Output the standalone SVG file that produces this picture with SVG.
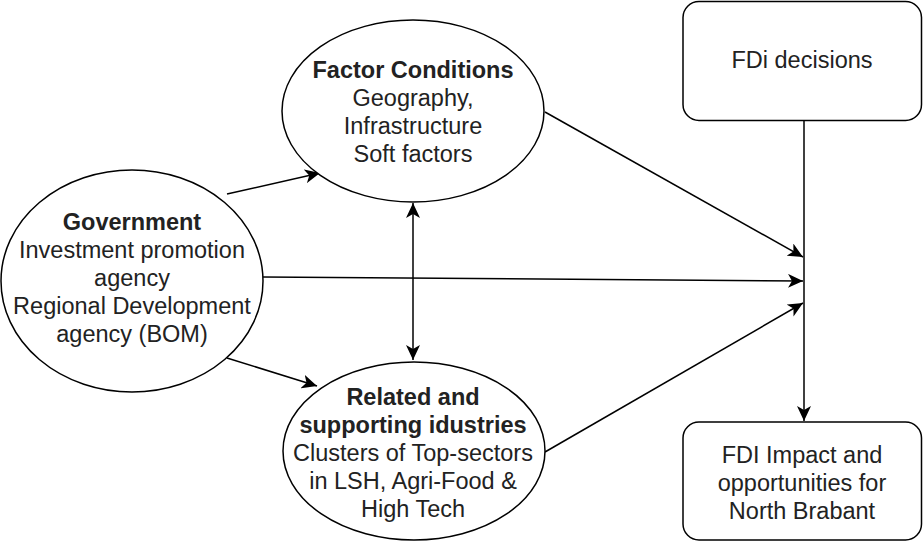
<svg xmlns="http://www.w3.org/2000/svg" width="923" height="542" viewBox="0 0 923 542">
<style>
.shape{fill:#fff;stroke:#000;stroke-width:1.5}
.edge{fill:none;stroke:#000;stroke-width:1.5}
text{font-family:"Liberation Sans",Arial,Helvetica,sans-serif;font-size:23.5px;fill:#222;text-anchor:middle}
.b{font-weight:bold}
</style>
<defs>
<marker id="arr" markerUnits="userSpaceOnUse" markerWidth="16" markerHeight="14" refX="15" refY="7" orient="auto-start-reverse" viewBox="0 0 16 14">
<path d="M0,0 L15,7 L0,14 L4,7 Z" fill="#000"/>
</marker>
</defs>
<rect width="923" height="542" fill="#fff"/>
<g id="connectors">
<line class="edge" x1="227" y1="194" x2="320" y2="173" marker-end="url(#arr)"/>
<line class="edge" x1="227" y1="358" x2="317" y2="386" marker-end="url(#arr)"/>
<line class="edge" x1="263" y1="277" x2="803" y2="281" marker-end="url(#arr)"/>
<line class="edge" x1="545" y1="112" x2="803" y2="257" marker-end="url(#arr)"/>
<line class="edge" x1="545" y1="452" x2="803" y2="303" marker-end="url(#arr)"/>
<line class="edge" x1="413" y1="203" x2="413" y2="360" marker-start="url(#arr)" marker-end="url(#arr)"/>
<line class="edge" x1="804" y1="121" x2="804" y2="421" marker-end="url(#arr)"/>
</g>
<g id="government">
<ellipse class="shape" cx="132" cy="281" rx="131" ry="111"/>
<text x="132" y="230" class="b">Government</text>
<text x="132" y="258">Investment promotion</text>
<text x="132" y="286">agency</text>
<text x="132" y="314">Regional Development</text>
<text x="132" y="342">agency (BOM)</text>
</g>
<g id="factor-conditions">
<ellipse class="shape" cx="413" cy="111" rx="131" ry="91"/>
<text x="413" y="78" class="b">Factor Conditions</text>
<text x="413" y="106">Geography,</text>
<text x="413" y="134">Infrastructure</text>
<text x="413" y="162">Soft factors</text>
</g>
<g id="related-industries">
<ellipse class="shape" cx="414" cy="451" rx="131" ry="89"/>
<text x="413" y="405" class="b">Related and</text>
<text x="413" y="433" class="b">supporting idustries</text>
<text x="413" y="461">Clusters of Top-sectors</text>
<text x="413" y="489">in LSH, Agri-Food &amp;</text>
<text x="413" y="517">High Tech</text>
</g>
<g id="fdi-decisions">
<rect class="shape" x="683" y="1.5" width="238.5" height="119" rx="16" ry="16"/>
<text x="802" y="68">FDi decisions</text>
</g>
<g id="fdi-impact">
<rect class="shape" x="683" y="422" width="238.5" height="118" rx="16" ry="16"/>
<text x="802" y="463">FDI Impact and</text>
<text x="802" y="491">opportunities for</text>
<text x="802" y="519">North Brabant</text>
</g>
</svg>
